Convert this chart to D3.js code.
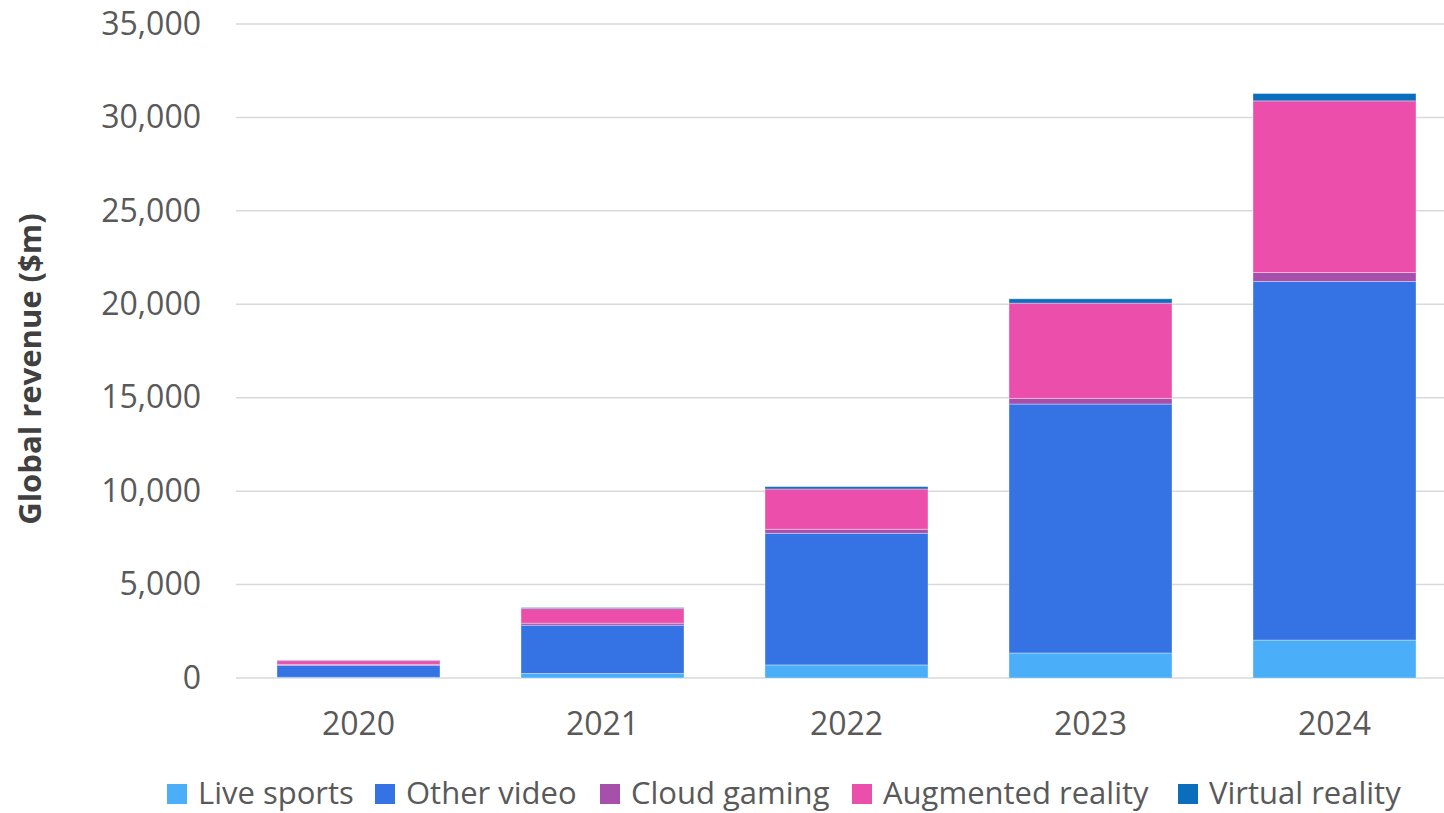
<!DOCTYPE html>
<html><head><meta charset="utf-8">
<script src="https://cdn.jsdelivr.net/npm/d3@7"></script>
<style>html,body{margin:0;padding:0;background:#fff;overflow:hidden}</style>
</head><body>
<svg id="chart" width="1444" height="813"></svg>
<script>
const years = ["2020","2021","2022","2023","2024"];
const seriesNames = ["Live sports","Other video","Cloud gaming","Augmented reality","Virtual reality"];
const liveSports = [40, 240, 700, 1340, 2030];
const otherVideo = [640, 2585, 7045, 13320, 19190];
const cloudGaming = [50, 107, 214, 303, 482];
const augmentedReality = [200, 785, 2157, 5100, 9185];
const virtualReality = [20, 50, 125, 230, 392];
const yTicks = [0,5000,10000,15000,20000,25000,30000,35000];
const colors = ["#4baef8","#3572e3","#a64fab","#ec4fab","#0a6ebd"];

const rows = years.map((y,i)=>({year:y,"Live sports":liveSports[i],"Other video":otherVideo[i],"Cloud gaming":cloudGaming[i],"Augmented reality":augmentedReality[i],"Virtual reality":virtualReality[i]}));

const svg = d3.select("#chart");
const font = "'Open Sans', sans-serif";
const x = d3.scaleBand().domain(years).range([236.5,1456.5]).paddingInner(0.332).paddingOuter(0.166);
const y = d3.scaleLinear().domain([0,35000]).range([678,24]);

// gridlines
svg.append("g").selectAll("line").data(yTicks).join("line")
  .attr("x1",236).attr("x2",1444)
  .attr("y1",d=>y(d)).attr("y2",d=>y(d))
  .attr("stroke","#d9d9d9").attr("stroke-width",1.5);

// y axis labels
const yAxis = d3.axisLeft(y).tickValues(yTicks).tickFormat(d3.format(",")).tickSize(0).tickPadding(0);
const ga = svg.append("g").attr("transform","translate(201,0)").call(yAxis);
ga.select(".domain").remove();
ga.selectAll("text").attr("font-family",font).attr("font-size",32).attr("fill","#595959");

// x axis labels
const xAxis = d3.axisBottom(x).tickSize(0).tickPadding(0);
const gx = svg.append("g").attr("transform","translate(0,712)").call(xAxis);
gx.select(".domain").remove();
gx.selectAll("text").attr("font-family",font).attr("font-size",32).attr("fill","#595959");

// stacked bars
const stack = d3.stack().keys(seriesNames)(rows);
svg.append("g").selectAll("g").data(stack).join("g")
  .attr("fill",(d,i)=>colors[i])
  .selectAll("rect").data(d=>d).join("rect")
  .attr("x",d=>x(d.data.year)).attr("width",x.bandwidth())
  .attr("y",d=>y(d[1])).attr("height",d=>y(d[0])-y(d[1]))
  .attr("stroke","rgba(255,255,255,0.35)").attr("stroke-width",1);

// y title
svg.append("text").attr("transform","translate(41,369) rotate(-90)")
  .attr("text-anchor","middle").attr("font-family",font).attr("font-weight","bold")
  .attr("font-size",31).attr("fill","#404040").text("Global revenue ($m)");

// legend
const legendX = [167,375,600,852,1178];
const lg = svg.append("g").selectAll("g").data(seriesNames).join("g")
  .attr("transform",(d,i)=>`translate(${legendX[i]},784)`);
lg.append("rect").attr("width",20).attr("height",20).attr("fill",(d,i)=>colors[i]);
lg.append("text").attr("x",31).attr("y",20).attr("font-family",font).attr("font-size",31).attr("fill","#595959").text(d=>d);
</script>
</body></html>
